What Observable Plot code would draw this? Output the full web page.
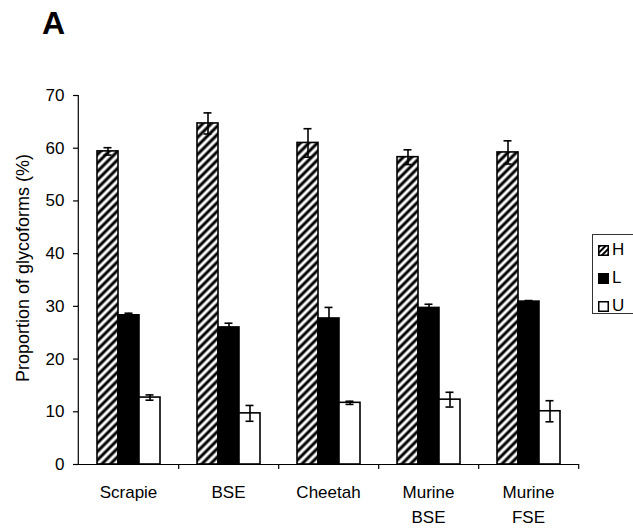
<!DOCTYPE html>
<html><head><meta charset="utf-8">
<script src="https://cdn.jsdelivr.net/npm/d3@7"></script>
<script src="https://cdn.jsdelivr.net/npm/@observablehq/plot@0.6"></script>
<style>
body{margin:0;background:#fff;font-family:"Liberation Sans",Arial,sans-serif;}
#wrap{position:relative;width:633px;height:532px;overflow:hidden;background:#fff;}
#panel{position:absolute;left:42px;top:7px;font-weight:bold;font-size:32px;line-height:32px;}
#chart{position:absolute;left:0;top:60px;}
#legend{position:absolute;left:592px;top:234px;width:60px;height:80px;border:1px solid #333;box-sizing:border-box;padding-top:1px;}
.row{height:28px;display:flex;align-items:center;font-size:17px;}
.row svg{margin-left:5px;margin-right:3px;}
</style></head><body>
<svg width="0" height="0" style="position:absolute"><defs>
<pattern id="hatch" patternUnits="userSpaceOnUse" width="6" height="6" patternTransform="rotate(45)">
<rect width="6" height="6" fill="white"/><line x1="3" y1="-1" x2="3" y2="7" stroke="black" stroke-width="3"/>
</pattern>
<pattern id="hatchS" patternUnits="userSpaceOnUse" width="4" height="4" patternTransform="rotate(45)">
<rect width="4" height="4" fill="white"/><line x1="2" y1="-1" x2="2" y2="5" stroke="black" stroke-width="2"/>
</pattern>
</defs></svg>
<div id="wrap">
<div id="panel">A</div>
<div id="chart"></div>
<div id="legend"></div>
</div>
<script>
const categories = ["Scrapie", "BSE", "Cheetah", "Murine BSE", "Murine FSE"];
const glycoforms = ["H", "L", "U"];
const valuesH = [59.4, 64.7, 61.0, 58.3, 59.2];
const errorsH = [0.7, 2.0, 2.7, 1.4, 2.2];
const valuesL = [28.3, 26.0, 27.7, 29.7, 30.9];
const errorsL = [0.4, 0.8, 2.1, 0.7, 0.2];
const valuesU = [12.7, 9.7, 11.7, 12.3, 10.1];
const errorsU = [0.5, 1.5, 0.3, 1.4, 2.0];
const yTicks = [0, 10, 20, 30, 40, 50, 60, 70];
const yLabel = "Proportion of glycoforms (%)";

const seriesValues = {H: valuesH, L: valuesL, U: valuesU};
const seriesErrors = {H: errorsH, L: errorsL, U: errorsU};
const rows = categories.flatMap((c, i) => glycoforms.map(g => ({
  category: c, glycoform: g, value: seriesValues[g][i], err: seriesErrors[g][i]
})));

const width = 633, height = 472, mL = 77, mR = 54;
const band = (width - mL - mR) / categories.length;

const chart = Plot.plot({
  width, height,
  marginLeft: mL, marginRight: mR, marginTop: 35, marginBottom: 68,
  style: {fontFamily: "'Liberation Sans', Arial, sans-serif", fontSize: "17px", color: "black", background: "white"},
  fx: {domain: categories, padding: 0, label: null, axis: null},
  x: {domain: glycoforms, paddingInner: 0, paddingOuter: 0.78, axis: null},
  y: {domain: [0, 70], axis: null},
  color: {domain: glycoforms, range: ["url(#hatch)", "black", "white"]},
  marks: [
    Plot.axisY({ticks: yTicks, tickSize: 5, tickPadding: 9, label: null, strokeWidth: 1.2}),
    Plot.ruleX([categories[0]], {fx: d => d, x: null, y1: 0, y2: 70, dx: -band / 2, stroke: "black", strokeWidth: 1.2}),
    Plot.text([yLabel], {fx: () => categories[0], frameAnchor: "left", textAnchor: "middle", lineAnchor: "middle", rotate: -90, dx: -55, dy: -12, text: d => d, fontSize: 18}),
    Plot.axisFx({anchor: "bottom", tickSize: 0, tickPadding: 16, label: null, lineHeight: 1.45, tickFormat: d => d.replace(" ", "\n")}),
    Plot.axisFx({anchor: "bottom", tickSize: 5, tickFormat: () => "", label: null, dx: band / 2, strokeWidth: 1.2}),
    Plot.barY(rows, {fx: "category", x: "glycoform", y: "value", fill: "glycoform", stroke: "black", strokeWidth: 1.6}),
    Plot.ruleX(rows, {fx: "category", x: "glycoform", y1: d => d.value - d.err, y2: d => d.value + d.err, stroke: "black", strokeWidth: 1.6}),
    Plot.tickY(rows, {fx: "category", x: "glycoform", y: d => d.value - d.err, stroke: "black", strokeWidth: 1.6, inset: 6.5}),
    Plot.tickY(rows, {fx: "category", x: "glycoform", y: d => d.value + d.err, stroke: "black", strokeWidth: 1.6, inset: 6.5}),
    Plot.ruleY([0], {stroke: "black", strokeWidth: 1.2})
  ]
});
document.getElementById("chart").append(chart);

const swatchFill = {H: "url(#hatchS)", L: "black", U: "white"};
const legend = d3.select("#legend");
glycoforms.forEach(g => {
  const row = legend.append("div").attr("class", "row");
  const s = row.append("svg").attr("width", 11).attr("height", 11);
  s.append("rect").attr("x", 0.75).attr("y", 0.75).attr("width", 9.5).attr("height", 9.5)
    .attr("fill", swatchFill[g]).attr("stroke", "black").attr("stroke-width", 1.5);
  row.append("span").text(g);
});
</script>
</body></html>
